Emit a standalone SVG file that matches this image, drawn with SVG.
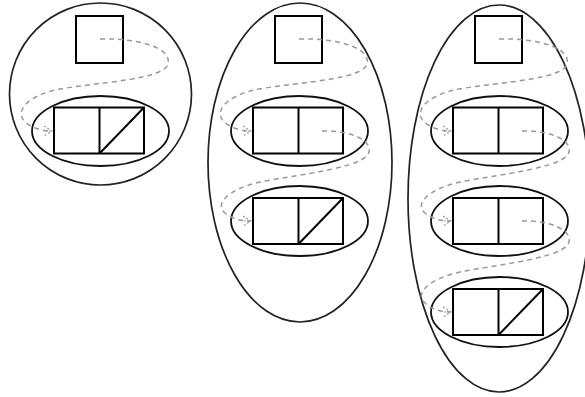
<svg xmlns="http://www.w3.org/2000/svg" width="585" height="397" viewBox="0 0 585 397">
<style>
.outer{fill:none;stroke:#222;stroke-width:1.7}
.ell{fill:none;stroke:#111;stroke-width:1.8}
.box{fill:#fff;stroke:#000;stroke-width:2}
.ln{stroke:#000;stroke-width:2}
.dash{fill:none;stroke:#999;stroke-width:1.5;stroke-dasharray:5 4}
</style>
<defs>
<marker id="arr" markerWidth="10" markerHeight="12" refX="9" refY="6" orient="auto" markerUnits="userSpaceOnUse">
<path d="M1,1 L9,6 L1,11 M2,6 L9,6" fill="none" stroke="#999" stroke-width="1.2" stroke-dasharray="2 2"/>
</marker>
</defs>
<rect width="585" height="397" fill="#fff"/>
<g id="diagram1">
<g id="d1-outer"><circle class="outer" cx="100.5" cy="94" r="91"/></g>
<g id="d1-head"><rect class="box" x="76" y="16" width="47" height="47"/></g>
<g id="d1-cell1">
<ellipse class="ell" cx="100.5" cy="131" rx="68.5" ry="35"/>
<rect class="box" x="54" y="107.5" width="90" height="46"/>
<line class="ln" x1="99.5" y1="107.5" x2="99.5" y2="153.5"/>
<line class="ln" x1="99.5" y1="153.5" x2="144" y2="107.5"/>
</g>
</g>
<g id="diagram2" transform="translate(199,0)">
<g id="d2-outer"><ellipse class="outer" cx="101" cy="162.5" rx="92" ry="159.5"/></g>
<g id="d2-head"><rect class="box" x="76" y="16" width="47" height="47"/></g>
<g id="d2-cell1">
<ellipse class="ell" cx="100.5" cy="131" rx="68.5" ry="35"/>
<rect class="box" x="54" y="107.5" width="90" height="46"/>
<line class="ln" x1="99.5" y1="107.5" x2="99.5" y2="153.5"/>
</g>
<g id="d2-cell2">
<ellipse class="ell" cx="100.5" cy="221" rx="68.5" ry="35"/>
<rect class="box" x="54" y="198" width="90" height="46"/>
<line class="ln" x1="99.5" y1="198" x2="99.5" y2="244"/>
<line class="ln" x1="99.5" y1="244" x2="144" y2="198"/>
</g>
</g>
<g id="diagram3" transform="translate(399,0)">
<g id="d3-outer"><ellipse class="outer" cx="100" cy="198.5" rx="91" ry="193.5"/></g>
<g id="d3-head"><rect class="box" x="76" y="16" width="47" height="47"/></g>
<g id="d3-cell1">
<ellipse class="ell" cx="100.5" cy="131" rx="68.5" ry="35"/>
<rect class="box" x="54" y="107.5" width="90" height="46"/>
<line class="ln" x1="99.5" y1="107.5" x2="99.5" y2="153.5"/>
</g>
<g id="d3-cell2">
<ellipse class="ell" cx="100.5" cy="221" rx="68.5" ry="35"/>
<rect class="box" x="54" y="198" width="90" height="46"/>
<line class="ln" x1="99.5" y1="198" x2="99.5" y2="244"/>
</g>
<g id="d3-cell3">
<ellipse class="ell" cx="100.5" cy="312" rx="68.5" ry="35"/>
<rect class="box" x="54" y="289" width="90" height="46"/>
<line class="ln" x1="99.5" y1="289" x2="99.5" y2="335"/>
<line class="ln" x1="99.5" y1="335" x2="144" y2="289"/>
</g>
</g>
<g id="connectors">
<path class="dash" marker-end="url(#arr)" d="M100,39 C145,38 172,50 168,64 C163,80 100,82 60,89 C25,96 15,112 25,122 C32,128 42,131 52,131"/>
<path class="dash" marker-end="url(#arr)" transform="translate(199,0)" d="M100,39 C145,38 172,50 168,64 C163,80 100,82 60,89 C25,96 15,112 25,122 C32,128 42,131 52,131"/>
<path class="dash" marker-end="url(#arr)" transform="translate(199,0)" d="M123,131 C151,130 173,140 170,152 C166,168 101,174 61,182 C26,190 16,205 26,213 C33,219 41,221 52,221"/>
<path class="dash" marker-end="url(#arr)" transform="translate(399,0)" d="M100,39 C145,38 172,50 168,64 C163,80 100,82 60,89 C25,96 15,112 25,122 C32,128 42,131 52,131"/>
<path class="dash" marker-end="url(#arr)" transform="translate(399,0)" d="M123,131 C151,130 173,140 170,152 C166,168 101,174 61,182 C26,190 16,205 26,213 C33,219 41,221 52,221"/>
<path class="dash" marker-end="url(#arr)" transform="translate(399,0)" d="M123,221 C151,220 173,230 170,242 C166,258 101,264 61,272 C26,280 16,295 26,303 C33,309 41,312 52,312"/>
</g>
</svg>
